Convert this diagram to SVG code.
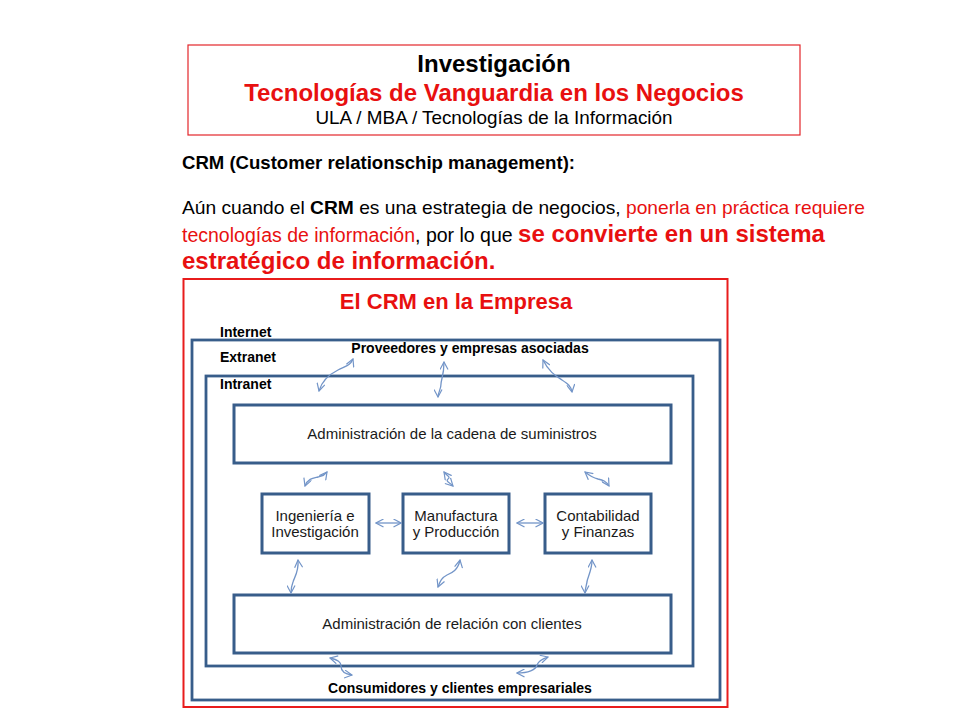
<svg xmlns="http://www.w3.org/2000/svg" width="960" height="720" viewBox="0 0 960 720">
<defs>
<style>
text{font-family:"Liberation Sans",Arial,sans-serif;}
.hdr{fill:none;stroke:#e3262a;stroke-width:1.2;}
.frame{fill:none;stroke:#e81c1c;stroke-width:2;}
.zone{fill:none;stroke:#385d8a;stroke-width:2.8;}
.box{fill:#fff;stroke:#385d8a;stroke-width:3;}
.lbl{font-size:14px;font-weight:bold;fill:#000;}
.bt{font-size:15px;fill:#1a1a1a;text-anchor:middle;}
.red{fill:#e81010;}
.arr{fill:none;stroke:#7395c8;stroke-width:1.3;marker-start:url(#ah);marker-end:url(#ah);}
</style>
<marker id="ah" viewBox="0 0 9 9" refX="8" refY="4.5" markerWidth="9" markerHeight="9" markerUnits="userSpaceOnUse" orient="auto-start-reverse">
<path d="M0.5,0.5 L8,4.5 L0.5,8.5" fill="none" stroke="#7395c8" stroke-width="1.2"/>
</marker>
</defs>
<rect width="960" height="720" fill="#fff"/>

<g id="header">
<rect class="hdr" x="188" y="45" width="612" height="90"/>
<text x="494" y="72" text-anchor="middle" font-size="24" font-weight="bold" fill="#000">Investigación</text>
<text x="494" y="101" text-anchor="middle" font-size="24" font-weight="bold" class="red">Tecnologías de Vanguardia en los Negocios</text>
<text x="494" y="124" text-anchor="middle" font-size="18.5" fill="#000" textLength="357" lengthAdjust="spacingAndGlyphs">ULA / MBA / Tecnologías de la Información</text>
</g>

<g id="intro">
<text x="182" y="169" font-size="18.5" font-weight="bold" fill="#000" textLength="393" lengthAdjust="spacingAndGlyphs">CRM (Customer relationschip management):</text>
<text x="182" y="214" font-size="19" fill="#000" textLength="683" lengthAdjust="spacingAndGlyphs">Aún cuando el <tspan font-weight="bold">CRM</tspan> es una estrategia de negocios, <tspan class="red">ponerla en práctica requiere</tspan></text>
<text x="182" y="242" font-size="19.5" fill="#000"><tspan class="red">tecnologías de información</tspan>, por lo que <tspan class="red" font-weight="bold" font-size="24">se convierte en un sistema</tspan></text>
<text x="182" y="269" font-size="24" font-weight="bold" class="red">estratégico de información.</text>
</g>

<g id="diagram-frame">
<rect class="frame" x="183.5" y="279" width="544" height="428"/>
<text x="456" y="309" text-anchor="middle" font-size="22" font-weight="bold" class="red">El CRM en la Empresa</text>
<text class="lbl" x="220" y="337">Internet</text>
</g>

<g id="extranet">
<rect class="zone" x="192" y="340" width="528" height="360"/>
<text class="lbl" x="220" y="362">Extranet</text>
<text class="lbl" x="470" y="353" text-anchor="middle">Proveedores y empresas asociadas</text>
<text class="lbl" x="460" y="693" text-anchor="middle">Consumidores y clientes empresariales</text>
</g>

<g id="intranet">
<rect class="zone" x="206" y="376" width="487" height="290"/>
<text class="lbl" x="220" y="389">Intranet</text>
</g>

<g id="supply">
<rect class="box" x="234" y="405" width="437" height="58"/>
<text class="bt" x="452" y="439">Administración de la cadena de suministros</text>
</g>

<g id="engineering">
<rect class="box" x="262" y="494" width="107" height="59"/>
<text class="bt" x="315" y="521">Ingeniería e</text>
<text class="bt" x="315" y="537">Investigación</text>
</g>

<g id="manufacturing">
<rect class="box" x="403" y="494" width="106" height="59"/>
<text class="bt" x="456" y="521">Manufactura</text>
<text class="bt" x="456" y="537">y Producción</text>
</g>

<g id="accounting">
<rect class="box" x="545" y="494" width="106" height="59"/>
<text class="bt" x="598" y="521">Contabilidad</text>
<text class="bt" x="598" y="537">y Finanzas</text>
</g>

<g id="crm">
<rect class="box" x="234" y="595" width="437" height="58"/>
<text class="bt" x="452" y="629">Administración de relación con clientes</text>
</g>

<g id="connectors">
<path class="arr" d="M319,391 C322,380 330,374 338,370 C346,366 350,366 353,359"/>
<path class="arr" d="M444,362 C444,375 441,380 441,384 C441,390 438,392 438,397"/>
<path class="arr" d="M543,360 C549,372 556,376 562,380 C568,384 571,386 572,392"/>
<path class="arr" d="M305,486 C308,478 314,478 318,477 C322,476 324,476 327,472"/>
<path class="arr" d="M444,472 C447,476 451,477 448,479 C445,481 450,483 453,486"/>
<path class="arr" d="M585,472 C590,476 594,478 598,479 C603,480 606,481 609,486"/>
<path class="arr" d="M376,523 L401,523"/>
<path class="arr" d="M517,523 L543,523"/>
<path class="arr" d="M298,560 C299,572 294,578 293,582 C291,587 291,590 291,593"/>
<path class="arr" d="M460,560 C458,570 452,573 447,575 C441,578 440,582 438,587"/>
<path class="arr" d="M592,560 C592,571 587,578 587,582 C586,587 585,590 585,593"/>
<path class="arr" d="M330,658 C338,660 341,662 341,666 C341,671 344,674 352,675"/>
<path class="arr" d="M548,657 C541,659 538,662 537,665 C536,670 528,673 517,673"/>
</g>
</svg>
